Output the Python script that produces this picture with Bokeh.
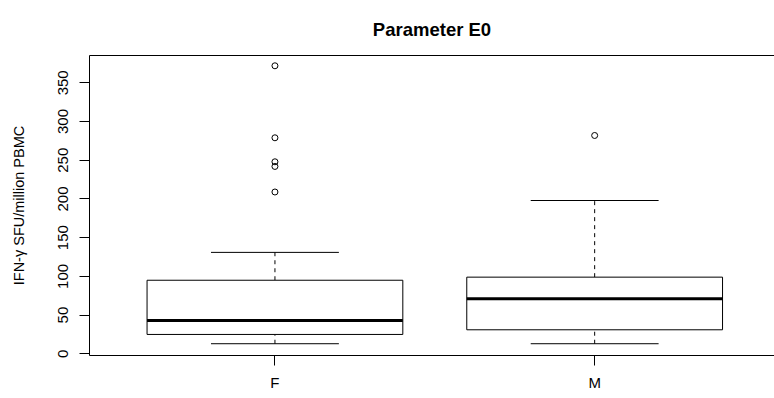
from bokeh.plotting import figure
from bokeh.models import Range1d, FixedTicker, LinearAxis, ColumnDataSource
from bokeh.embed import file_html
from bokeh.resources import INLINE

# Box-plot summary of IFN-gamma response by sex
categories = ["F", "M"]
whisker_low = [13, 13]
quartile_1 = [25, 31]
median = [43, 71]
quartile_3 = [95, 99]
whisker_high = [131, 198]
outliers_F = [372, 279, 248, 242, 209]
outliers_M = [282]
y_ticks = [0, 50, 100, 150, 200, 250, 300, 350]

FONT = "Liberation Sans"
BOX_HALF = 0.4      # half of the box width (boxwex 0.8)
CAP_HALF = 0.2      # half of the whisker-cap width

pos = [i + 1 for i in range(len(categories))]
src = ColumnDataSource(dict(
    x=pos,
    left=[x - BOX_HALF for x in pos],
    right=[x + BOX_HALF for x in pos],
    cap_l=[x - CAP_HALF for x in pos],
    cap_r=[x + CAP_HALF for x in pos],
    lo=whisker_low, q1=quartile_1, med=median, q3=quartile_3, hi=whisker_high,
))

out_x, out_y = [], []
for x, vals in zip(pos, [outliers_F, outliers_M]):
    out_x += [x] * len(vals)
    out_y += vals

p = figure(width=774, height=398, output_backend="svg", toolbar_location=None,
           x_range=Range1d(0.42, 2.5625), y_range=Range1d(-2.2, 385.3),
           min_border_left=89, min_border_right=0, min_border_top=55,
           min_border_bottom=43, title="Parameter E0")

p.title.text_font = FONT
p.title.text_font_size = "18.5px"
p.title.text_font_style = "bold"
p.title.align = "center"
p.title.text_color = "black"
p.title.standoff = 31

p.xgrid.visible = False
p.ygrid.visible = False
p.outline_line_color = None
p.background_fill_color = "white"

# whiskers (dashed) and caps
p.segment(x0="x", y0="q3", x1="x", y1="hi", source=src, line_color="black",
          line_width=1, line_dash="4 4")
p.segment(x0="x", y0="lo", x1="x", y1="q1", source=src, line_color="black",
          line_width=1, line_dash="4 4")
p.segment(x0="cap_l", y0="hi", x1="cap_r", y1="hi", source=src, line_color="black", line_width=1)
p.segment(x0="cap_l", y0="lo", x1="cap_r", y1="lo", source=src, line_color="black", line_width=1)

# boxes and medians
p.quad(left="left", right="right", bottom="q1", top="q3", source=src,
       fill_color="white", line_color="black", line_width=1)
p.segment(x0="left", y0="med", x1="right", y1="med", source=src,
          line_color="black", line_width=3)

# outliers
p.scatter(out_x, out_y, marker="circle", size=6, fill_color=None,
          line_color="black", line_width=1)

# axes
for ax in (p.xaxis[0], p.yaxis[0]):
    ax.major_tick_out = 10
    ax.major_tick_in = 0
    ax.minor_tick_line_color = None
    ax.axis_line_color = "black"
    ax.major_tick_line_color = "black"
    ax.major_label_text_font = FONT
    ax.major_label_text_font_size = "15px"
    ax.major_label_text_color = "black"

p.xaxis.ticker = FixedTicker(ticks=pos)
p.xaxis.major_label_overrides = {x: c for x, c in zip(pos, categories)}
p.xaxis.major_label_standoff = 8

p.yaxis.ticker = FixedTicker(ticks=y_ticks)
p.yaxis.major_label_orientation = "vertical"
p.yaxis.major_label_standoff = 11
p.yaxis.axis_label = "IFN-\u03b3 SFU/million PBMC"
p.yaxis.axis_label_text_font = FONT
p.yaxis.axis_label_text_font_size = "14.5px"
p.yaxis.axis_label_text_font_style = "normal"
p.yaxis.axis_label_text_color = "black"
p.yaxis.axis_label_standoff = 29

# top border line of the plotting region
top = LinearAxis(ticker=FixedTicker(ticks=[]), major_tick_out=0, major_tick_in=0,
                 minor_tick_line_color=None, axis_line_color="black",
                 major_label_text_font_size="0px")
p.add_layout(top, "above")

open("out.html", "w").write(file_html(p, INLINE))
